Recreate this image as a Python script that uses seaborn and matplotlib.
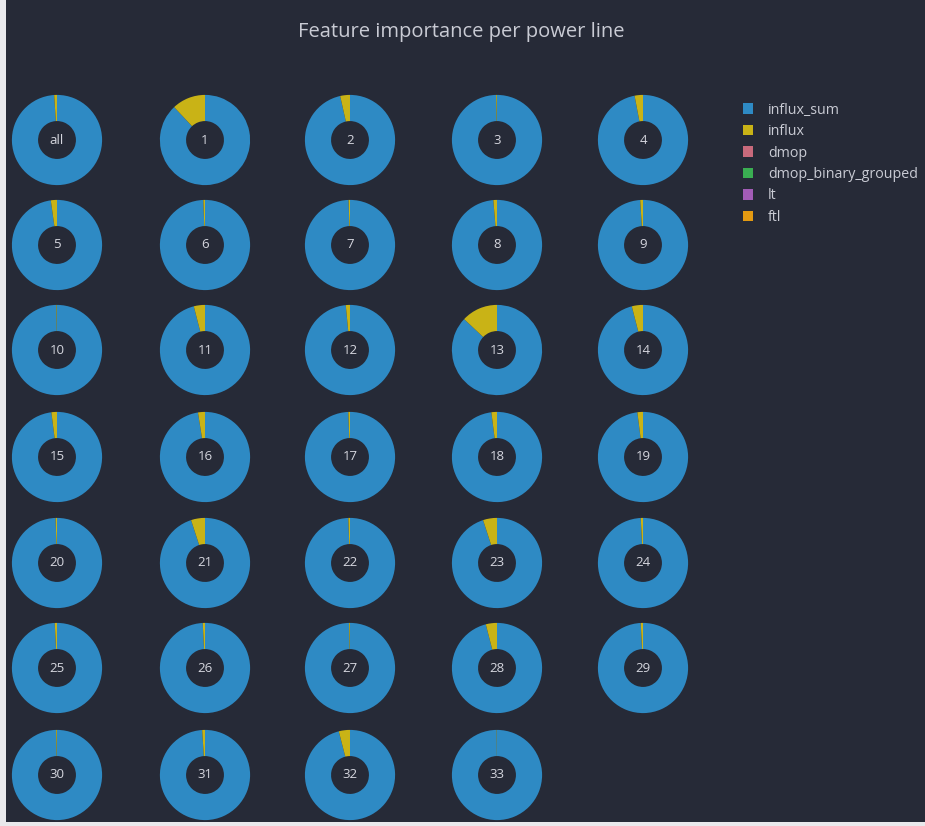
import matplotlib
matplotlib.use("Agg")
import matplotlib.pyplot as plt
from matplotlib.patches import Patch, Rectangle
import seaborn as sns

# Feature importance shares (percent) per power line
lines = ["all"] + [str(i) for i in range(1, 34)]
influx = [1.0, 12.0, 3.5, 0.3, 3.0, 2.2, 0.6, 0.5, 1.3, 1.0,
          0.2, 4.0, 1.5, 13.0, 4.0, 2.0, 2.5, 0.6, 2.0, 2.0,
          0.5, 5.0, 0.6, 5.0, 0.8, 0.8, 0.8, 0.3, 4.0, 0.8,
          0.3, 1.0, 4.0, 0.1]
influx_sum = [99.0, 88.0, 96.5, 99.7, 97.0, 97.8, 99.4, 99.5, 98.7, 99.0,
              99.8, 96.0, 98.5, 87.0, 96.0, 98.0, 97.5, 99.4, 98.0, 98.0,
              99.5, 95.0, 99.4, 95.0, 99.2, 99.2, 99.2, 99.7, 96.0, 99.2,
              99.7, 99.0, 96.0, 99.9]
dmop = [0.0] * 34
dmop_binary_grouped = [0.0] * 34
lt = [0.0] * 34
ftl = [0.0] * 34

features = ["influx_sum", "influx", "dmop", "dmop_binary_grouped", "lt", "ftl"]
colors = ["#2e8ac4", "#c9b316", "#c86a7c", "#3aae52", "#a25cb6", "#e39a12"]

sns.set_theme(style="dark")
plt.rcParams["font.family"] = ["Open Sans", "DejaVu Sans"]

BG = "#262a37"
W, H = 925, 826
fig = plt.figure(figsize=(W / 100, H / 100), dpi=100)
fig.patch.set_facecolor("#e9e9ec")
fig.patches.append(Rectangle((6 / W, 4 / H), 1 - 6 / W, 1 - 4 / H,
                             transform=fig.transFigure, facecolor=BG,
                             edgecolor="none", zorder=-10))

fig.text(461 / W, 1 - 32 / H, "Feature importance per power line",
         ha="center", va="center", color="#c9cbd4", fontsize=14.5)

col_x = [57, 205, 350, 497, 643]
row_y = [140, 245, 350, 457, 563, 668, 775]
R = 46

for i, name in enumerate(lines):
    cx = col_x[i % 5]
    cy = row_y[i // 5]
    ax = fig.add_axes([(cx - R) / W, 1 - (cy + R) / H, 2 * R / W, 2 * R / H])
    ax.set_facecolor("none")
    ax.set_zorder(1)
    vals = [influx_sum[i], influx[i], dmop[i], dmop_binary_grouped[i], lt[i], ftl[i]]
    ax.pie(vals, colors=colors, startangle=90, counterclock=False, radius=1.0,
           wedgeprops=dict(width=0.58, linewidth=0, edgecolor="none"))
    ax.text(0, 0, name, ha="center", va="center", color="#d6d7df", fontsize=9.5)
    ax.set_xlim(-1.02, 1.02)
    ax.set_ylim(-1.02, 1.02)
    ax.set_aspect("equal")
    ax.axis("off")

handles = [Patch(facecolor=c, edgecolor="none", label=f) for f, c in zip(features, colors)]
leg = fig.legend(handles=handles, loc="upper left",
                 bbox_to_anchor=(737 / W, 1 - 97 / H), frameon=False,
                 fontsize=10.3, handlelength=0.75, handleheight=0.75,
                 handletextpad=1.0, labelspacing=0.45, borderaxespad=0)
for t in leg.get_texts():
    t.set_color("#c9cbd4")

fig.savefig("out.png", dpi=100, facecolor=fig.get_facecolor())
